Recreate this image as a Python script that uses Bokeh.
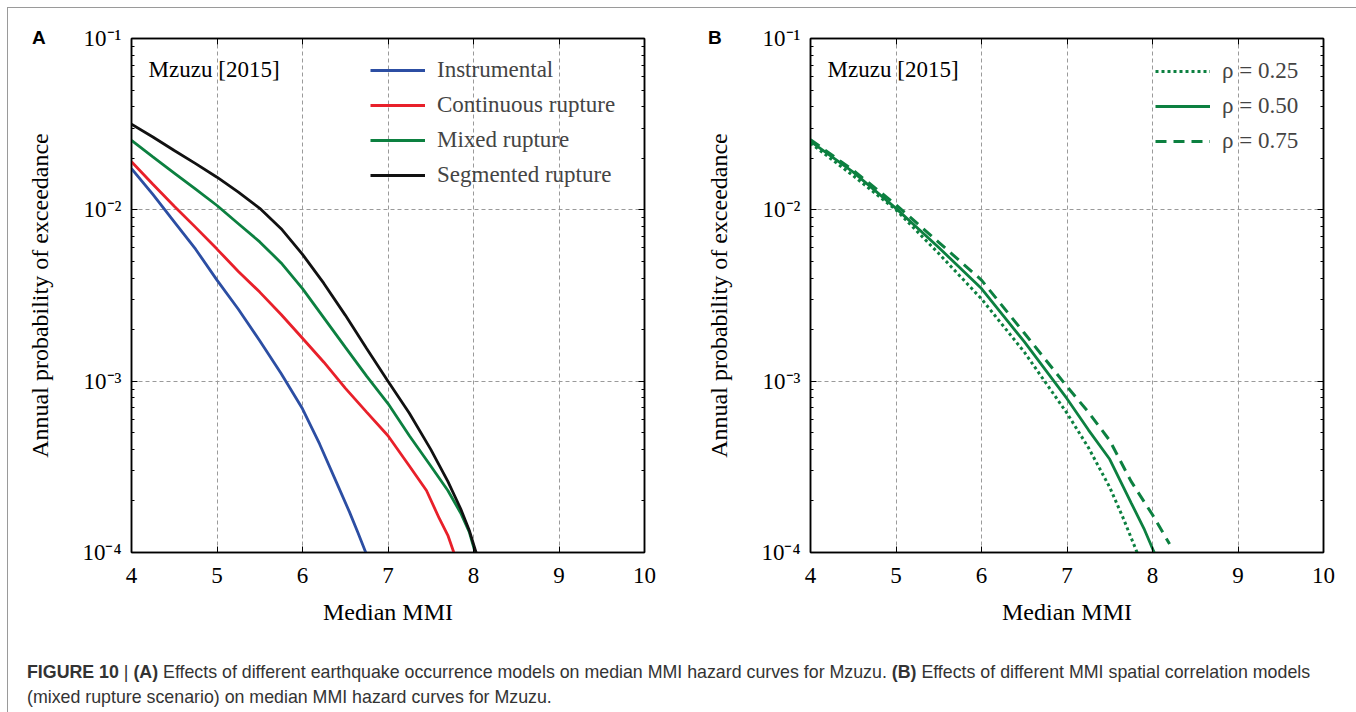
from bokeh.plotting import figure
from bokeh.models import (Range1d, LinearAxis, LogAxis, FixedTicker, Legend,
                          LegendItem, Label, Div)
from bokeh.layouts import row, column
from bokeh.embed import file_html
from bokeh.resources import INLINE

# ---------------- data ----------------
x_ticks = [4, 5, 6, 7, 8, 9, 10]
x_tick_labels = ["4", "5", "6", "7", "8", "9", "10"]
y_ticks = [1e-4, 1e-3, 1e-2, 1e-1]
y_tick_labels = ["10\u207b\u2074", "10\u207b\u00b3", "10\u207b\u00b2", "10\u207b\u00b9"]
y_minor_ticks = [2e-4, 3e-4, 4e-4, 5e-4, 6e-4, 7e-4, 8e-4, 9e-4,
                 2e-3, 3e-3, 4e-3, 5e-3, 6e-3, 7e-3, 8e-3, 9e-3,
                 2e-2, 3e-2, 4e-2, 5e-2, 6e-2, 7e-2, 8e-2, 9e-2]

# Panel A: earthquake occurrence models
instr_x = [4.0, 4.25, 4.5, 4.75, 5.0, 5.25, 5.5, 5.75, 6.0, 6.2, 6.4, 6.55, 6.65, 6.74]
instr_y = [0.0174, 0.0123, 0.00851, 0.00589, 0.00389, 0.00263, 0.00172, 0.00111,
           6.9e-4, 4.3e-4, 2.55e-4, 1.72e-4, 1.3e-4, 1.0e-4]

cont_x = [4.0, 4.25, 4.5, 4.75, 5.0, 5.25, 5.5, 5.75, 6.0, 6.25, 6.5, 6.75, 7.0,
          7.25, 7.45, 7.6, 7.7, 7.77]
cont_y = [0.0191, 0.0141, 0.0105, 0.0079, 0.0059, 0.00437, 0.00331, 0.00245, 0.00178,
          0.00129, 9.1e-4, 6.6e-4, 4.8e-4, 3.2e-4, 2.3e-4, 1.58e-4, 1.26e-4, 1.0e-4]

mixed_x = [4.0, 4.25, 4.5, 4.75, 5.0, 5.25, 5.5, 5.75, 6.0, 6.25, 6.5, 6.75, 7.0,
           7.25, 7.5, 7.7, 7.85, 7.95, 8.02]
mixed_y = [0.0254, 0.0204, 0.0164, 0.0132, 0.0106, 0.0083, 0.0065, 0.0049, 0.00347,
           0.00234, 0.00158, 0.00107, 7.4e-4, 4.8e-4, 3.2e-4, 2.3e-4, 1.7e-4, 1.32e-4, 1.0e-4]

seg_x = [4.0, 4.25, 4.5, 4.75, 5.0, 5.25, 5.5, 5.75, 6.0, 6.25, 6.5, 6.75, 7.0,
         7.25, 7.5, 7.7, 7.85, 7.95, 8.03]
seg_y = [0.0316, 0.0266, 0.0222, 0.0186, 0.0155, 0.0127, 0.0102, 0.00776, 0.0055,
         0.00372, 0.00243, 0.00155, 0.00100, 6.5e-4, 4.0e-4, 2.6e-4, 1.8e-4, 1.35e-4, 1.0e-4]

series_a_names = ["Instrumental", "Continuous rupture", "Mixed rupture", "Segmented rupture"]

# Panel B: spatial correlation models (mixed rupture)
rho25_x = [4.0, 4.5, 5.0, 5.5, 6.0, 6.5, 7.0, 7.25, 7.5, 7.65, 7.82]
rho25_y = [0.0245, 0.0158, 0.0100, 0.00556, 0.00302, 0.00148, 6.5e-4, 4.1e-4, 2.4e-4,
           1.62e-4, 1.0e-4]
rho50_x = [4.0, 4.5, 5.0, 5.5, 6.0, 6.5, 7.0, 7.25, 7.5, 7.75, 7.9, 8.02]
rho50_y = [0.0251, 0.0166, 0.0102, 0.00603, 0.00347, 0.0017, 7.9e-4, 5.2e-4, 3.5e-4,
           1.95e-4, 1.38e-4, 1.0e-4]
rho75_x = [4.0, 4.5, 5.0, 5.5, 6.0, 6.5, 7.0, 7.25, 7.5, 7.75, 8.0, 8.2]
rho75_y = [0.0257, 0.0170, 0.0107, 0.00646, 0.00389, 0.00191, 9.3e-4, 6.6e-4, 4.5e-4,
           2.6e-4, 1.66e-4, 1.12e-4]

series_b_names = ["\u03c1 = 0.25", "\u03c1 = 0.50", "\u03c1 = 0.75"]

panel_letters = ["A", "B"]
x_label = "Median MMI"
y_label = "Annual probability of exceedance"
site_label = "Mzuzu [2015]"
caption_line1 = ("<b>FIGURE 10</b> | <b>(A)</b> Effects of different earthquake occurrence models "
                 "on median MMI hazard curves for Mzuzu. <b>(B)</b> Effects of different MMI "
                 "spatial correlation models")
caption_line2 = "(mixed rupture scenario) on median MMI hazard curves for Mzuzu."

# ---------------- styling ----------------
SERIF = "Liberation Serif"
FIG_H = 632


def style_axis(ax, ticker):
    ax.ticker = ticker
    ax.axis_line_color = "black"
    ax.axis_line_width = 1.5
    ax.major_tick_in = 6
    ax.major_tick_out = 0
    ax.minor_tick_in = 3
    ax.minor_tick_out = 0
    ax.major_tick_line_color = "black"
    ax.minor_tick_line_color = "black"
    ax.major_label_text_font = SERIF
    ax.major_label_text_color = "black"
    ax.major_label_text_font_size = "23px"
    ax.axis_label_text_font = SERIF
    ax.axis_label_text_font_style = "normal"
    ax.axis_label_text_color = "black"


def make_panel(width, left, right):
    p = figure(width=width, height=FIG_H, x_range=Range1d(4, 10),
               y_range=Range1d(1e-4, 1e-1), y_axis_type="log",
               output_backend="svg", toolbar_location=None,
               min_border_left=left, min_border_right=right,
               min_border_top=30, min_border_bottom=88,
               background_fill_color="white", border_fill_color="white")
    p.outline_line_color = "black"
    p.outline_line_width = 1.5

    xlabels = {t: l for t, l in zip(x_ticks, x_tick_labels)}
    ylabels = {t: l for t, l in zip(y_ticks, y_tick_labels)}

    xa = p.xaxis[0]
    style_axis(xa, FixedTicker(ticks=x_ticks))
    xa.major_label_overrides = xlabels
    xa.major_label_standoff = 15
    xa.axis_label = x_label
    xa.axis_label_text_font_size = "24px"
    xa.axis_label_standoff = 13

    ya = p.yaxis[0]
    style_axis(ya, FixedTicker(ticks=y_ticks, minor_ticks=y_minor_ticks))
    ya.major_label_overrides = ylabels
    ya.major_label_standoff = 10
    ya.axis_label = y_label
    ya.axis_label_text_font_size = "24px"
    ya.axis_label_standoff = 26

    # box-style tick marks on the top and right frame edges (no labels)
    top = LinearAxis()
    style_axis(top, FixedTicker(ticks=x_ticks))
    top.major_label_text_font_size = "6px"
    top.major_label_overrides = {t: "" for t in x_ticks}
    top.major_label_standoff = 0
    p.add_layout(top, "above")
    rt = LogAxis()
    style_axis(rt, FixedTicker(ticks=y_ticks, minor_ticks=y_minor_ticks))
    rt.major_label_text_font_size = "6px"
    rt.major_label_overrides = {t: "" for t in y_ticks}
    rt.major_label_standoff = 0
    p.add_layout(rt, "right")

    for g in (p.xgrid[0], p.ygrid[0]):
        g.grid_line_color = "#9a9a9a"
        g.grid_line_width = 1
        g.grid_line_dash = "4 3"
    p.ygrid[0].ticker = FixedTicker(ticks=y_ticks)
    p.xgrid[0].ticker = FixedTicker(ticks=x_ticks)

    p.add_layout(Label(x=4.2, y=0.066, text=site_label, text_font=SERIF,
                       text_font_size="23px", text_baseline="middle",
                       text_color="black"))
    return p


pA = make_panel(670, 123, 34)
pB = make_panel(673, 132, 28)

# Panel A lines
colors_a = ["#2c4ea3", "#e8202a", "#0c8040", "#111111"]
rs = []
for xs, ys, c in zip([instr_x, cont_x, mixed_x, seg_x],
                     [instr_y, cont_y, mixed_y, seg_y], colors_a):
    rs.append(pA.line(xs, ys, line_color=c, line_width=2.8))

legA = Legend(items=[LegendItem(label=n, renderers=[r]) for n, r in zip(series_a_names, rs)],
              location=(239, 364), glyph_width=55, glyph_height=24, label_height=24,
              label_standoff=12, spacing=9, padding=0, margin=0,
              border_line_color=None, background_fill_alpha=0,
              label_text_font=SERIF, label_text_font_size="23px")
pA.add_layout(legA)

# Panel B lines
green = "#0c8040"
rb = []
rb.append(pB.line(rho25_x, rho25_y, line_color=green, line_width=3, line_dash="3 3"))
rb.append(pB.line(rho50_x, rho50_y, line_color=green, line_width=2.8))
rb.append(pB.line(rho75_x, rho75_y, line_color=green, line_width=3, line_dash="11 7"))

legB = Legend(items=[LegendItem(label=n, renderers=[r]) for n, r in zip(series_b_names, rb)],
              location=(345, 398), glyph_width=55, glyph_height=24, label_height=24,
              label_standoff=12, spacing=9, padding=0, margin=0,
              border_line_color=None, background_fill_alpha=0,
              label_text_font=SERIF, label_text_font_size="23px")
pB.add_layout(legB)

caption = Div(text=caption_line1 + "<br>" + caption_line2, width=1343, height=64,
              styles={"font-family": "'Liberation Sans', Arial, sans-serif",
                      "font-size": "17.8px", "color": "#333333", "line-height": "25px",
                      "padding": "15px 0 0 14px", "white-space": "nowrap",
                      "box-sizing": "border-box"})

letter_divs = []
for letter, left in zip(panel_letters, [19, 695]):
    letter_divs.append(Div(text=f'<span style="font-size:19px;font-weight:bold">{letter}</span>',
                           width=24, height=24,
                           styles={"position": "absolute", "left": f"{left}px", "top": "15px",
                                   "font-family": "'Liberation Sans', Arial, sans-serif",
                                   "font-weight": "bold", "font-size": "19px",
                                   "line-height": "19px", "color": "black", "z-index": "5"}))

layout = column(row(pA, pB), caption, *letter_divs, margin=(7, 4, 0, 7),
                styles={"border": "1px solid #9a9a9a", "border-bottom": "none",
                        "position": "relative"})

open("out.html", "w").write(file_html(layout, INLINE))
